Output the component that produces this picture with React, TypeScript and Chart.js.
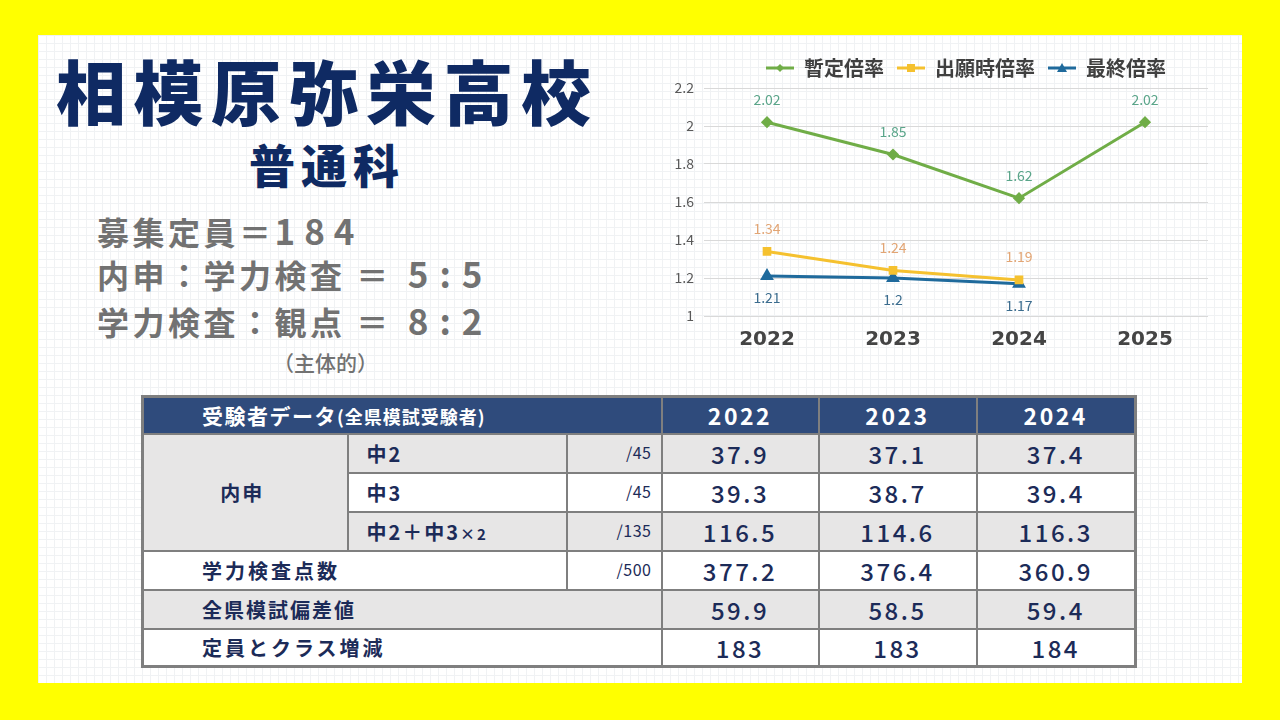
import { useEffect, useRef } from 'react';
import { Chart, registerables } from 'chart.js';

Chart.register(...registerables);

// chart data
const years = ['2022', '2023', '2024', '2025'];
const provisionalRatio = [2.02, 1.85, 1.62, 2.02];
const applicationRatio = [1.34, 1.24, 1.19, null];
const finalRatio = [1.21, 1.2, 1.17, null];
const seriesNames = ['暫定倍率', '出願時倍率', '最終倍率'];

// table data
const tableYears = ['2022', '2023', '2024'];
const naishin2 = ['37.9', '37.1', '37.4'];
const naishin3 = ['39.3', '38.7', '39.4'];
const naishinTotal = ['116.5', '114.6', '116.3'];
const examScore = ['377.2', '376.4', '360.9'];
const deviation = ['59.9', '58.5', '59.4'];
const capacity = ['183', '183', '184'];

const FONT = '"Noto Sans CJK JP", "Noto Sans", sans-serif';
const NAVY = '#0f2a63';
const CELL_TEXT = '#1c2b58';
const GRAY_BG = '#e7e6e6';
const LINE = '#7f7f7f';
const INFO_GRAY = '#727272';

const colors = {
  green: '#70ad47',
  yellow: '#f5c12f',
  blue: '#1f6a9c',
};

const labelStyles = [
  { color: '#5aa58a', dy: -23 },
  { color: '#e2a574', dy: -23 },
  { color: '#3b6c8e', dy: 22 },
];

function makeIcon(color: string, shape: 'diamond' | 'square' | 'triangle') {
  const c = document.createElement('canvas');
  c.width = 28;
  c.height = 12;
  const g = c.getContext('2d')!;
  g.strokeStyle = color;
  g.fillStyle = color;
  g.lineWidth = 3;
  g.beginPath();
  g.moveTo(0, 6);
  g.lineTo(28, 6);
  g.stroke();
  g.beginPath();
  if (shape === 'diamond') {
    g.moveTo(14, 2);
    g.lineTo(18, 6);
    g.lineTo(14, 10);
    g.lineTo(10, 6);
  } else if (shape === 'square') {
    g.rect(10, 2, 8, 8);
  } else {
    g.moveTo(14, 1);
    g.lineTo(19, 10);
    g.lineTo(9, 10);
  }
  g.closePath();
  g.fill();
  return c;
}

const valueLabelPlugin = {
  id: 'valueLabels',
  afterDatasetsDraw(chart: Chart) {
    const { ctx } = chart;
    chart.data.datasets.forEach((ds, i) => {
      const meta = chart.getDatasetMeta(i);
      const style = labelStyles[i];
      meta.data.forEach((pt, j) => {
        const v = ds.data[j] as number | null;
        if (v == null) return;
        ctx.save();
        ctx.font = `14px ${FONT}`;
        ctx.fillStyle = style.color;
        ctx.textAlign = 'center';
        ctx.textBaseline = 'middle';
        ctx.fillText(String(v), pt.x, pt.y + style.dy);
        ctx.restore();
      });
    });
  },
};

function RatioChart() {
  const canvasRef = useRef<HTMLCanvasElement | null>(null);

  useEffect(() => {
    if (!canvasRef.current) return;
    const icons = [
      makeIcon(colors.green, 'diamond'),
      makeIcon(colors.yellow, 'square'),
      makeIcon(colors.blue, 'triangle'),
    ];
    const chart = new Chart(canvasRef.current, {
      type: 'line',
      data: {
        labels: years,
        datasets: [
          {
            label: seriesNames[0],
            data: provisionalRatio,
            borderColor: colors.green,
            backgroundColor: colors.green,
            borderWidth: 3,
            pointStyle: 'rectRot',
            pointRadius: 4,
          },
          {
            label: seriesNames[1],
            data: applicationRatio,
            borderColor: colors.yellow,
            backgroundColor: colors.yellow,
            borderWidth: 3,
            pointStyle: 'rect',
            pointRadius: 4,
          },
          {
            label: seriesNames[2],
            data: finalRatio,
            borderColor: colors.blue,
            backgroundColor: colors.blue,
            borderWidth: 3,
            pointStyle: 'triangle',
            pointRadius: 5,
          },
        ],
      },
      options: {
        animation: false,
        responsive: true,
        maintainAspectRatio: false,
        layout: { padding: 0 },
        plugins: {
          tooltip: { enabled: false },
          legend: {
            position: 'top',
            labels: {
              usePointStyle: true,
              pointStyleWidth: 28,
              padding: 13,
              color: '#404040',
              font: { family: FONT, size: 20, weight: 'bold' },
              generateLabels: (c: Chart) =>
                Chart.defaults.plugins.legend.labels
                  .generateLabels(c)
                  .map((item, i) => ({ ...item, pointStyle: icons[i] })),
            },
          },
        },
        scales: {
          x: {
            offset: true,
            grid: { display: false, drawTicks: false },
            border: { display: false },
            ticks: {
              color: '#444444',
              padding: 12,
              font: { family: '"DejaVu Sans", sans-serif', size: 20, weight: 'bold' },
            },
            afterFit: (s: any) => {
              s.height = 48;
            },
          },
          y: {
            min: 1,
            max: 2.2,
            grid: { color: '#d9d9d9', drawTicks: false },
            border: { display: false },
            ticks: {
              stepSize: 0.2,
              color: '#595959',
              padding: 10,
              font: { family: FONT, size: 14 },
              callback: (v: any) => String(Math.round(Number(v) * 10) / 10),
            },
            afterFit: (s: any) => {
              s.width = 44;
            },
          },
          y2: {
            position: 'right',
            display: true,
            grid: { display: false },
            border: { display: false },
            ticks: { display: false },
            afterFit: (s: any) => {
              s.width = 64;
            },
          },
        },
      },
      plugins: [valueLabelPlugin],
    });
    return () => chart.destroy();
  }, []);

  return (
    <div style={{ position: 'absolute', left: 660, top: 45, width: 612, height: 319 }}>
      <canvas ref={canvasRef} />
    </div>
  );
}

const cell = (extra: React.CSSProperties = {}): React.CSSProperties => ({
  border: `2px solid ${LINE}`,
  padding: 0,
  color: CELL_TEXT,
  fontWeight: 700,
  fontSize: 20,
  letterSpacing: 2,
  whiteSpace: 'nowrap',
  ...extra,
});

const valueCell = (bg: string): React.CSSProperties =>
  cell({ background: bg, textAlign: 'center', fontSize: 24, fontWeight: 500, letterSpacing: 2.5 });

const maxCell = (bg: string): React.CSSProperties =>
  cell({
    background: bg,
    textAlign: 'right',
    paddingRight: 9,
    fontSize: 16,
    fontWeight: 400,
    letterSpacing: 0.5,
    verticalAlign: 'top',
    paddingTop: 5,
  });

function DataTable() {
  const header: React.CSSProperties = {
    border: `2px solid ${LINE}`,
    background: '#2f4b7c',
    color: '#ffffff',
    fontWeight: 700,
    padding: 0,
    whiteSpace: 'nowrap',
  };
  return (
    <table
      style={{
        position: 'absolute',
        left: 141,
        top: 395,
        borderCollapse: 'collapse',
        border: `3px solid ${LINE}`,
        fontFamily: FONT,
        tableLayout: 'fixed',
        width: 993,
      }}
    >
      <colgroup>
        <col style={{ width: 205 }} />
        <col style={{ width: 219 }} />
        <col style={{ width: 95 }} />
        <col style={{ width: 157 }} />
        <col style={{ width: 158 }} />
        <col style={{ width: 159 }} />
      </colgroup>
      <tbody>
        <tr style={{ height: 37 }}>
          <td colSpan={3} style={{ ...header, paddingLeft: 58, fontSize: 21, letterSpacing: 1.5 }}>
            受験者データ<span style={{ fontSize: 18, letterSpacing: 1 }}>(全県模試受験者)</span>
          </td>
          {tableYears.map((y) => (
            <td key={y} style={{ ...header, textAlign: 'center', fontSize: 23, letterSpacing: 2.5 }}>
              {y}
            </td>
          ))}
        </tr>
        <tr style={{ height: 39 }}>
          <td rowSpan={3} style={cell({ background: GRAY_BG, textAlign: 'center', paddingRight: 6 })}>
            内申
          </td>
          <td style={cell({ background: GRAY_BG, paddingLeft: 18 })}>中2</td>
          <td style={maxCell(GRAY_BG)}>/45</td>
          {naishin2.map((v, i) => (
            <td key={i} style={valueCell(GRAY_BG)}>{v}</td>
          ))}
        </tr>
        <tr style={{ height: 39 }}>
          <td style={cell({ background: '#fff', paddingLeft: 18 })}>中3</td>
          <td style={maxCell('#fff')}>/45</td>
          {naishin3.map((v, i) => (
            <td key={i} style={valueCell('#fff')}>{v}</td>
          ))}
        </tr>
        <tr style={{ height: 39 }}>
          <td style={cell({ background: GRAY_BG, paddingLeft: 18 })}>
            中2＋中3<span style={{ fontSize: 15 }}>×2</span>
          </td>
          <td style={maxCell(GRAY_BG)}>/135</td>
          {naishinTotal.map((v, i) => (
            <td key={i} style={valueCell(GRAY_BG)}>{v}</td>
          ))}
        </tr>
        <tr style={{ height: 39 }}>
          <td colSpan={2} style={cell({ background: '#fff', paddingLeft: 58, letterSpacing: 3 })}>
            学力検査点数
          </td>
          <td style={maxCell('#fff')}>/500</td>
          {examScore.map((v, i) => (
            <td key={i} style={valueCell('#fff')}>{v}</td>
          ))}
        </tr>
        <tr style={{ height: 39 }}>
          <td colSpan={3} style={cell({ background: GRAY_BG, paddingLeft: 58 })}>
            全県模試偏差値
          </td>
          {deviation.map((v, i) => (
            <td key={i} style={valueCell(GRAY_BG)}>{v}</td>
          ))}
        </tr>
        <tr style={{ height: 38 }}>
          <td colSpan={3} style={cell({ background: '#fff', paddingLeft: 58, letterSpacing: 3 })}>
            定員とクラス増減
          </td>
          {capacity.map((v, i) => (
            <td key={i} style={valueCell('#fff')}>{v}</td>
          ))}
        </tr>
      </tbody>
    </table>
  );
}

const infoLine = (top: number): React.CSSProperties => ({
  position: 'absolute',
  left: 97,
  top,
  fontSize: 32,
  lineHeight: '34px',
  fontWeight: 700,
  color: INFO_GRAY,
  letterSpacing: 3.5,
  whiteSpace: 'pre',
});

const digits: React.CSSProperties = { fontSize: 35, letterSpacing: 9 };
const ratio: React.CSSProperties = { fontSize: 35, letterSpacing: 11, marginLeft: 16 };

export default function App() {
  return (
    <div
      style={{
        position: 'fixed',
        left: 0,
        top: 0,
        width: 1280,
        height: 720,
        background: '#ffff00',
        fontFamily: FONT,
        overflow: 'hidden',
      }}
    >
      <div
        style={{
          position: 'absolute',
          left: 38,
          top: 35,
          width: 1204,
          height: 648,
          backgroundColor: '#ffffff',
          backgroundImage:
            'linear-gradient(#f0f2f4 1px, transparent 1px), linear-gradient(90deg, #f0f2f4 1px, transparent 1px)',
          backgroundSize: '8px 8px',
        }}
      />
      <div
        style={{
          position: 'absolute',
          left: 56,
          top: 55,
          fontSize: 70,
          lineHeight: '70px',
          fontWeight: 900,
          color: NAVY,
          letterSpacing: 7.5,
          whiteSpace: 'nowrap',
        }}
      >
        相模原弥栄高校
      </div>
      <div
        style={{
          position: 'absolute',
          left: 249,
          top: 140,
          fontSize: 46,
          lineHeight: '46px',
          fontWeight: 900,
          color: NAVY,
          letterSpacing: 6,
        }}
      >
        普通科
      </div>
      <div style={infoLine(213)}>
        募集定員＝<span style={digits}>184</span>
      </div>
      <div style={infoLine(256)}>
        内申：学力検査 ＝<span style={ratio}>5:5</span>
      </div>
      <div style={infoLine(303)}>
        学力検査：観点 ＝<span style={ratio}>8:2</span>
      </div>
      <div
        style={{
          position: 'absolute',
          left: 273,
          top: 350,
          fontSize: 21,
          lineHeight: '24px',
          fontWeight: 500,
          color: INFO_GRAY,
        }}
      >
        （主体的）
      </div>
      <RatioChart />
      <DataTable />
    </div>
  );
}
